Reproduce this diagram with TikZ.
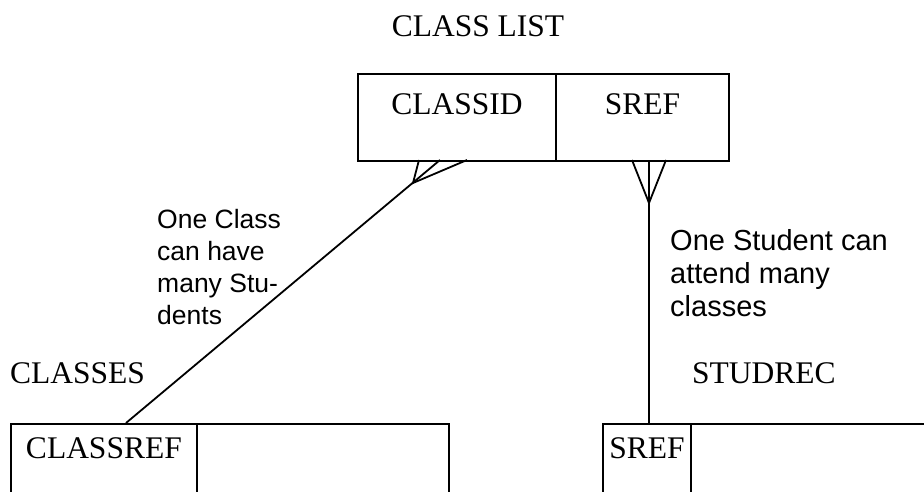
\documentclass[tikz,border=0pt]{standalone}
\usepackage{fontspec}
\setmainfont{Liberation Serif}
\newfontfamily\notefont{Liberation Sans}
\usetikzlibrary{positioning}

\tikzset{
  cell/.style={draw, line width=1.8pt, inner sep=0pt, anchor=north west, font=\fontsize{31.5}{37}\selectfont},
  tablename/.style={font=\fontsize{31.5}{37}\selectfont, inner sep=0pt, anchor=base west},
  note/.style={font=\notefont\fontsize{26.5}{32}\selectfont, align=left, inner sep=0pt, anchor=north west},
  link/.style={line width=1.8pt},
}

\begin{document}
\begin{tikzpicture}[x=1pt,y=-1pt]
  \useasboundingbox (0,0) rectangle (924,492);
  \clip (0,0) rectangle (924,492);

  % class list table
  \node[tablename, anchor=base] (listname) at (478,37) {CLASS LIST};
  \node[cell, minimum width=198pt, text height=41pt, text depth=46pt] (classid) at (357,73) {CLASSID};
  \node[cell, minimum width=173pt, text height=41pt, text depth=46pt] (sref) at (555,73) {SREF};

  % classes table
  \node[tablename] (classesname) at (10,383) {CLASSES};
  \node[cell, minimum width=186pt, text height=35pt, text depth=80pt] (classref) at (10,423) {CLASSREF};
  \node[cell, minimum width=252pt, text height=35pt, text depth=80pt] (classrest) at (196,423) {};

  % studrec table
  \node[tablename] (studrecname) at (692,383) {STUDREC};
  \node[cell, minimum width=88pt, text height=35pt, text depth=80pt] (studsref) at (602,423) {SREF};
  \node[cell, minimum width=300pt, text height=35pt, text depth=80pt] (studrest) at (690,423) {};

  % crow's feet
  \coordinate (leftend) at (126,423);
  \coordinate (leftapex) at (413,183);
  \coordinate (lefttoea) at (419,160);
  \coordinate (lefttoeb) at (440,160);
  \coordinate (lefttoec) at (467,160);
  \draw[link] (leftend) -- (lefttoeb);
  \draw[link] (lefttoea) -- (leftapex) -- (lefttoec);

  \coordinate (rightend) at (649,423);
  \coordinate (rightapex) at (649,203);
  \coordinate (righttoea) at (632,160);
  \coordinate (righttoeb) at (649,160);
  \coordinate (righttoec) at (666,160);
  \draw[link] (rightend) -- (righttoeb);
  \draw[link] (righttoea) -- (rightapex) -- (righttoec);

  % notes
  \node[note] (classnote) at (157,209) {One Class\\can have\\many Stu-\\dents};
  \node[note, font=\notefont\fontsize{29}{33}\selectfont] (studnote) at (670,229) {One Student can\\attend many\\classes};
\end{tikzpicture}
\end{document}
